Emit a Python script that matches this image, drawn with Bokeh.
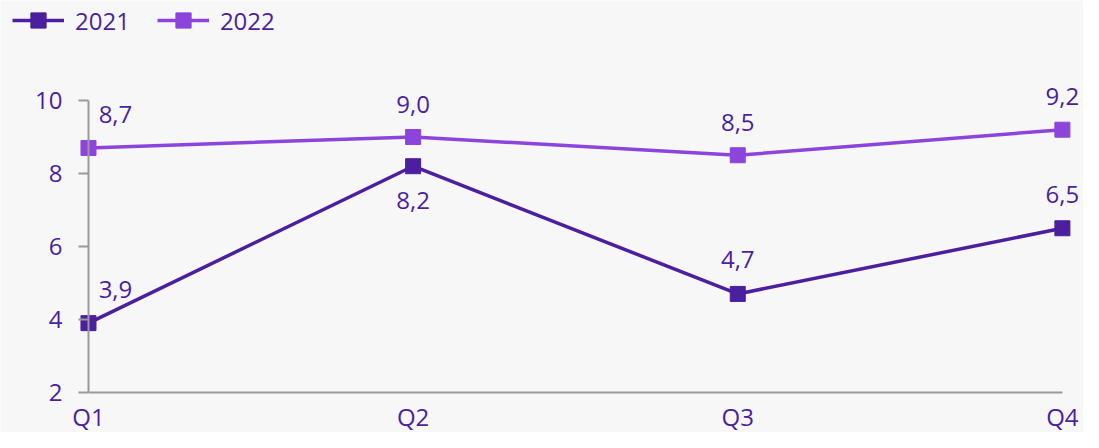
from bokeh.plotting import figure
from bokeh.models import ColumnDataSource, LabelSet, Legend, LegendItem, FixedTicker, Range1d
from bokeh.core.properties import value
from bokeh.embed import file_html
from bokeh.resources import INLINE

quarters = ["Q1", "Q2", "Q3", "Q4"]
values_2021 = [3.9, 8.2, 4.7, 6.5]
values_2022 = [8.7, 9.0, 8.5, 9.2]
y_ticks = [2, 4, 6, 8, 10]

BG = "#f7f7f7"
C21 = "#4b1fa0"
C22 = "#8c44dc"
TXT = "#4b1fa0"
AX = "#9a9a9a"
FONT = "Open Sans"
FS = "24px"

xs = list(range(len(quarters)))

# frame covers the whole figure; axes are pinned at data positions (x=0, y=2)
# and bounded to the data extent, so nothing (markers, labels, legend) is clipped
p = figure(width=1083, height=432, output_backend="svg", toolbar_location=None,
           x_range=Range1d(-0.271, 3.065), y_range=Range1d(0.904, 12.74),
           background_fill_color=BG, border_fill_color=BG,
           min_border_left=0, min_border_right=0, min_border_top=0, min_border_bottom=0)
p.outline_line_color = None
p.grid.grid_line_color = None

def fmt(v):
    return f"{v:.1f}".replace(".", ",")

def xoff(i):
    return 27 if i == 0 else 0

src21 = ColumnDataSource(dict(x=xs, y=values_2021, t=[fmt(v) for v in values_2021],
                              xo=[xoff(i) for i in xs],
                              yo=[-34 if i == 1 else 34 for i in xs]))
src22 = ColumnDataSource(dict(x=xs, y=values_2022, t=[fmt(v) for v in values_2022],
                              xo=[xoff(i) for i in xs],
                              yo=[33 for i in xs]))

l21 = p.line("x", "y", source=src21, line_color=C21, line_width=3.5)
m21 = p.scatter("x", "y", source=src21, marker="square", size=15, fill_color=C21, line_color=C21)
l22 = p.line("x", "y", source=src22, line_color=C22, line_width=3.5)
m22 = p.scatter("x", "y", source=src22, marker="square", size=15, fill_color=C22, line_color=C22)

for src, bg in ((src21, BG), (src22, None)):
    ls = LabelSet(x="x", y="y", text="t", source=src, x_offset="xo", y_offset="yo",
                  text_align="center", text_baseline="middle",
                  text_font=value(FONT), text_font_size=value(FS), text_color=TXT,
                  background_fill_color=bg)
    p.add_layout(ls)

# axes
p.xaxis.fixed_location = 2
p.xaxis.ticker = FixedTicker(ticks=xs)
p.xaxis.bounds = (0, len(quarters) - 1)
p.xaxis.major_label_overrides = {i: q for i, q in zip(xs, quarters)}
p.xaxis.major_tick_line_color = None
p.xaxis.major_tick_out = 0
p.xaxis.major_tick_in = 0
p.xaxis.minor_tick_line_color = None
p.xaxis.axis_line_color = AX
p.xaxis.axis_line_width = 2
p.xaxis.major_label_standoff = 8
p.xaxis.major_label_text_font = FONT
p.xaxis.major_label_text_font_size = FS
p.xaxis.major_label_text_color = TXT

p.yaxis.fixed_location = 0
p.yaxis.ticker = FixedTicker(ticks=y_ticks)
p.yaxis.bounds = (2, 10)
p.yaxis.minor_tick_line_color = None
p.yaxis.axis_line_color = AX
p.yaxis.axis_line_width = 2
p.yaxis.major_tick_line_color = AX
p.yaxis.major_tick_line_width = 2
p.yaxis.major_tick_out = 10
p.yaxis.major_tick_in = 0
p.yaxis.major_label_standoff = 16
p.yaxis.major_label_text_font = FONT
p.yaxis.major_label_text_font_size = FS
p.yaxis.major_label_text_color = TXT

legend = Legend(items=[LegendItem(label="2021", renderers=[l21, m21]),
                       LegendItem(label="2022", renderers=[l22, m22])],
                orientation="horizontal", location=(12, 393),
                padding=0, margin=0, spacing=27, label_standoff=11,
                glyph_width=52, glyph_height=38, label_height=38,
                label_text_font=FONT, label_text_font_size=FS, label_text_color=TXT,
                background_fill_alpha=0, border_line_color=None)
p.add_layout(legend, "center")

open("out.html", "w").write(file_html(p, INLINE))
